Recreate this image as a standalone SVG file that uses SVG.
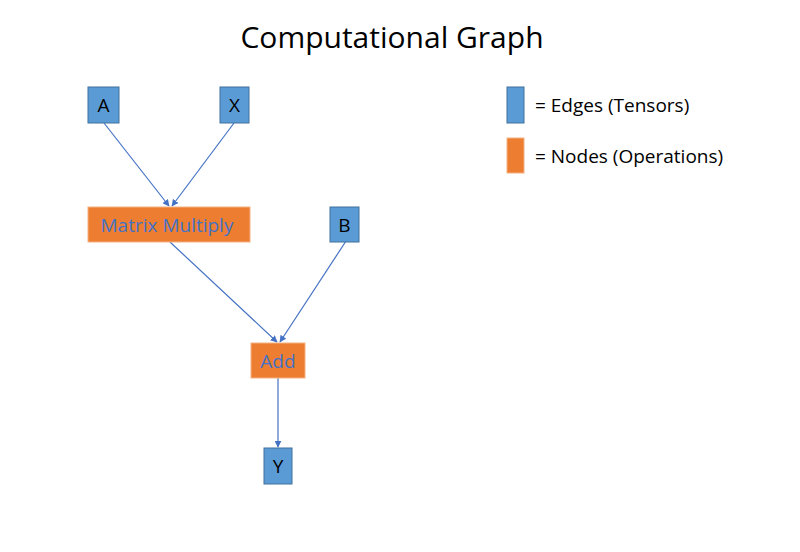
<svg xmlns="http://www.w3.org/2000/svg" width="800" height="552" viewBox="0 0 800 552">
<style>
.t{fill:#5B9BD5;stroke:#41719C;stroke-width:1}
.o{fill:#ED7D31;stroke:#F4B183;stroke-width:1}
.lb{font-family:"Open Sans","Liberation Sans",sans-serif;font-size:19px;fill:#000;text-anchor:middle}
.ob{font-family:"Open Sans","Liberation Sans",sans-serif;font-size:19px;fill:#4472C4;text-anchor:middle}
.lg{font-family:"Open Sans","Liberation Sans",sans-serif;font-size:19px;fill:#000}
.c{stroke:#4472C4;stroke-width:1.2;fill:none;marker-end:url(#ah)}
</style>
<defs>
<marker id="ah" viewBox="0 0 10 10" refX="9" refY="5" markerWidth="7" markerHeight="7" orient="auto" markerUnits="userSpaceOnUse">
<path d="M0,0 L10,5 L0,10 z" fill="#4472C4"/>
</marker>
</defs>
<rect width="800" height="552" fill="#fff"/>
<text x="392" y="48" font-family="'Open Sans','Liberation Sans',sans-serif" font-size="30" text-anchor="middle" fill="#000">Computational Graph</text>
<g id="connectors">
<line class="c" x1="104" y1="123" x2="169" y2="206"/>
<line class="c" x1="234" y1="123" x2="172" y2="206"/>
<line class="c" x1="170" y1="242" x2="277" y2="342"/>
<line class="c" x1="348" y1="238" x2="280" y2="342"/>
<line class="c" x1="278" y1="378" x2="278" y2="447"/>
</g>
<g id="A"><rect class="t" x="88" y="87" width="31" height="36"/><text class="lb" x="103.5" y="112">A</text></g>
<g id="X"><rect class="t" x="220" y="87" width="29" height="36"/><text class="lb" x="234.5" y="112">X</text></g>
<g id="MatMul"><rect class="o" x="88" y="207" width="162" height="35"/><text class="ob" x="167" y="231.5">Matrix Multiply</text></g>
<g id="B"><rect class="t" x="330" y="207" width="29" height="35"/><text class="lb" x="344.5" y="231.5">B</text></g>
<g id="Add"><rect class="o" x="251" y="343" width="54" height="35"/><text class="ob" x="278" y="367.5">Add</text></g>
<g id="Y"><rect class="t" x="264" y="448" width="28" height="36"/><text class="lb" x="278" y="473">Y</text></g>
<g id="legend">
<rect class="t" x="507" y="87" width="17" height="36"/>
<text class="lg" x="535" y="112">= Edges (Tensors)</text>
<rect class="o" x="507" y="138" width="17" height="35"/>
<text class="lg" x="535" y="163">= Nodes (Operations)</text>
</g>
</svg>
